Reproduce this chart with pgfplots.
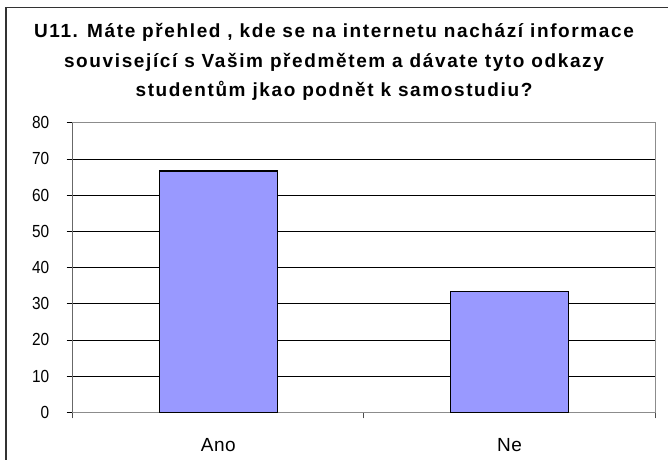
\documentclass[border=0pt]{standalone}
\usepackage{fontspec}
\setmainfont{Liberation Sans}
\usepackage{pgfplots}
\pgfplotsset{compat=1.18}
\definecolor{barblue}{HTML}{9999FF}
\begin{document}
\begin{tikzpicture}
\useasboundingbox (0,0) rectangle (668pt,459pt);
\clip (0,0) rectangle (668pt,459pt);
\draw[line width=1.3pt, black!80] (6pt,-10pt) rectangle (700pt,451.5pt);
\node[font=\fontsize{19}{29.5}\selectfont\bfseries\addfontfeature{LetterSpace=8.5}, align=center] at (334pt, 397pt)
  {U11. Máte přehled , kde se na internetu nachází informace\\
   související s Vašim předmětem a dávate tyto odkazy\\
   studentům jkao podnět k samostudiu?};
\begin{axis}[
  at={(72.7pt,46.7pt)}, anchor=south west,
  scale only axis, width=582.3pt, height=289.6pt,
  xmin=-0.5, xmax=1.5, ymin=0, ymax=80,
  ytick={0,10,...,80},
  xtick={0,1}, xticklabels={Ano,Ne},
  minor xtick={-0.5,0.5,1.5},
  major x tick style={draw=none},
  minor x tick style={black!70, line width=0.8pt},
  tick align=outside,
  xtick pos=bottom, ytick pos=left,
  major tick length=6pt, minor tick length=6pt,
  ymajorgrids, grid style={black, line width=0.7pt},
  axis line style={black!45, line width=1pt},
  y tick style={black, line width=0.8pt},
  yticklabel style={font=\fontsize{17.5}{20}\selectfont\addfontfeature{FakeStretch=0.88}, xshift=-14pt},
  xticklabel style={font=\fontsize{19}{22}\selectfont\addfontfeature{LetterSpace=3}, anchor=base, yshift=-33pt},
  /pgf/number format/assume math mode=true,
]
\addplot[ybar, bar width=117.7pt, fill=barblue, draw=black, line width=1.2pt] coordinates {(0,66.67) (1,33.33)};
\draw[black!85, line width=1.2pt] (rel axis cs:0,0) -- (rel axis cs:0,1);
\end{axis}
\end{tikzpicture}
\end{document}
